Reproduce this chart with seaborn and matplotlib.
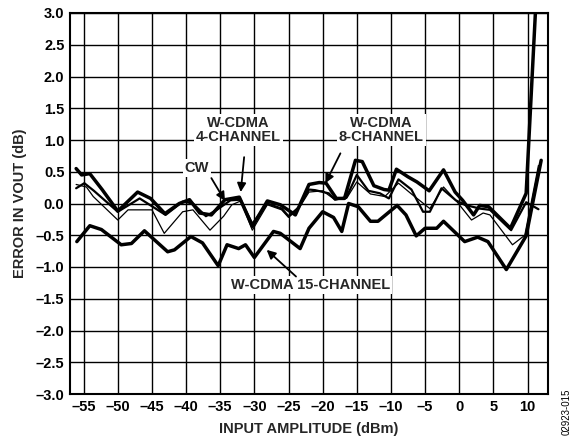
import matplotlib
matplotlib.use("Agg")
import matplotlib.pyplot as plt
import seaborn as sns
import numpy as np

# ---- data ----
x_thick = [-56.1, -55.3, -54.1, -52.3, -50.0, -47.1, -45.2, -43.1, -41.0, -39.5, -38.0, -36.3,
           -34.3, -32.2, -30.3, -28.1, -26.2, -24.0, -22.0, -20.5, -19.5, -18.0, -16.8, -15.2,
           -14.2, -12.5, -11.0, -10.3, -9.2, -7.5, -6.2, -4.4, -2.3, -0.6, 0.5, 2.1, 3.0, 4.3,
           7.5, 9.8, 11.2]
y_thick = [0.55, 0.45, 0.47, 0.22, -0.12, 0.18, 0.08, -0.16, 0.0, 0.06, -0.15, -0.18,
           0.06, 0.10, -0.36, 0.04, -0.02, -0.18, 0.30, 0.33, 0.32, 0.08, 0.08, 0.68,
           0.66, 0.28, 0.22, 0.21, 0.54, 0.42, 0.34, 0.20, 0.53, 0.18, 0.05, -0.18, -0.03, -0.05,
           -0.39, 0.16, 3.1]

x_medium = [-56.1, -54.9, -53.5, -50.0, -46.8, -44.9, -43.0, -40.5, -39.0, -37.1, -35.5, -33.5,
            -32.0, -30.3, -28.1, -26.0, -25.0, -23.5, -22.0, -21.1, -19.1, -18.2, -16.5, -15.0,
            -13.3, -11.6, -10.3, -8.9, -7.0, -5.3, -4.3, -2.6, -0.5, 0.8, 3.0, 4.5, 7.6, 9.8, 11.6]
y_medium = [0.24, 0.32, 0.20, -0.13, 0.08, -0.05, -0.18, 0.03, 0.0, -0.20, -0.10, 0.05,
            0.06, -0.32, 0.0, -0.08, -0.20, -0.06, 0.22, 0.21, 0.16, 0.06, 0.10, 0.45,
            0.20, 0.16, 0.08, 0.38, 0.22, -0.13, -0.13, 0.24, 0.05, -0.02, -0.08, -0.10, -0.42, 0.02, -0.09]

x_thin = [-56.1, -54.6, -53.6, -50.0, -48.5, -45.0, -43.2, -40.5, -39.0, -36.5, -34.5, -33.3,
          -32.0, -30.3, -28.1, -26.0, -25.0, -23.5, -22.0, -20.0, -18.2, -16.5, -15.0, -13.0,
          -10.9, -8.9, -7.0, -4.3, -2.3, -0.5, 1.8, 3.5, 4.5, 7.8, 9.6, 11.6]
y_thin = [0.30, 0.26, 0.11, -0.26, -0.10, -0.10, -0.47, -0.13, -0.10, -0.42, -0.20, -0.02,
          0.04, -0.42, -0.02, -0.10, -0.22, -0.08, 0.18, 0.20, 0.06, 0.08, 0.34, 0.15,
          0.11, 0.32, 0.15, -0.08, 0.26, 0.05, -0.26, -0.15, -0.18, -0.65, -0.50, 0.60]

x_15ch = [-56.0, -54.1, -52.4, -49.5, -48.0, -46.1, -42.7, -41.7, -39.3, -37.6, -35.3, -34.0,
          -32.3, -31.3, -30.0, -27.2, -26.2, -23.3, -22.0, -20.0, -18.4, -17.2, -16.2, -14.8,
          -13.0, -11.9, -9.1, -7.8, -6.3, -5.0, -3.3, -2.3, 0.8, 2.7, 4.2, 6.9, 9.8, 12.0]
y_15ch = [-0.60, -0.35, -0.41, -0.65, -0.63, -0.43, -0.76, -0.73, -0.52, -0.62, -0.98, -0.65,
          -0.71, -0.65, -0.85, -0.44, -0.47, -0.71, -0.39, -0.13, -0.22, -0.44, 0.0, -0.05,
          -0.28, -0.28, -0.03, -0.18, -0.51, -0.39, -0.39, -0.28, -0.60, -0.53, -0.60, -1.04, -0.51, 0.68]

x_ticks = [-55, -50, -45, -40, -35, -30, -25, -20, -15, -10, -5, 0, 5, 10]
y_ticks = [-3.0, -2.5, -2.0, -1.5, -1.0, -0.5, 0.0, 0.5, 1.0, 1.5, 2.0, 2.5, 3.0]

labels = ["CW", "W-CDMA\n4-CHANNEL", "W-CDMA\n8-CHANNEL", "W-CDMA 15-CHANNEL"]
label_xy = [(-38.4, 0.56), (-32.3, 1.16), (-11.4, 1.16), (-21.8, -1.28)]
arrow_from = [(-36.3, 0.40), (-31.5, 0.73), (-17.4, 0.79), (-23.9, -1.15)]
arrow_to = [(-34.3, 0.04), (-32.0, 0.18), (-19.6, 0.32), (-28.2, -0.73)]

# ---- style ----
sns.set_theme(style="white")
plt.rcParams["font.family"] = ["Liberation Sans", "DejaVu Sans"]
plt.rcParams["font.weight"] = "bold"
FS = 10.5

fig = plt.figure(figsize=(5.78, 4.42), dpi=100)
ax = fig.add_axes([70 / 578, 1 - 394 / 442, (548 - 70) / 578, (394 - 13) / 442])

for xs, ys, lw in [(x_thin, y_thin, 0.9), (x_medium, y_medium, 1.6),
                   (x_thick, y_thick, 2.5), (x_15ch, y_15ch, 2.5)]:
    sns.lineplot(x=xs, y=ys, ax=ax, color="black", linewidth=lw, sort=False,
                 estimator=None, legend=False, zorder=3)

ax.set_xlim(-57, 13)
ax.set_ylim(-3.0, 3.0)
ax.set_xticks(x_ticks)
ax.set_yticks(y_ticks)
ax.set_xticklabels([str(v).replace("-", "\u2013") for v in x_ticks], fontsize=FS, fontweight="bold")
ax.set_yticklabels([f"{v:.1f}".replace("-", "\u2013") for v in y_ticks], fontsize=FS, fontweight="bold")
ax.tick_params(axis="both", length=0, pad=4, colors="black")
ax.grid(True, color="black", linewidth=1.0, zorder=1)
ax.set_axisbelow(True)
for s in ax.spines.values():
    s.set_color("black")
    s.set_linewidth(1.5)
    s.set_visible(True)

ax.set_xlabel("INPUT AMPLITUDE (dBm)", fontsize=FS, fontweight="bold", labelpad=6)
ax.set_ylabel("ERROR IN VOUT (dB)", fontsize=FS, fontweight="bold", labelpad=6)

for lab, (lx, ly), a0, a1 in zip(labels, label_xy, arrow_from, arrow_to):
    ax.text(lx, ly, lab, ha="center", va="center", fontsize=FS, fontweight="bold",
            linespacing=1.0, zorder=5,
            bbox=dict(boxstyle="square,pad=0.12", fc="white", ec="none"))
    ax.annotate("", xy=a1, xytext=a0, zorder=6,
                arrowprops=dict(arrowstyle="-|>", color="black", lw=1.3,
                                mutation_scale=13, shrinkA=0, shrinkB=0))

fig.text(567 / 578, 1 - 412 / 442, "02923-015", rotation=90, ha="center", va="center",
         fontsize=7, fontweight="normal", color="black")

fig.savefig("out.png", dpi=100)
